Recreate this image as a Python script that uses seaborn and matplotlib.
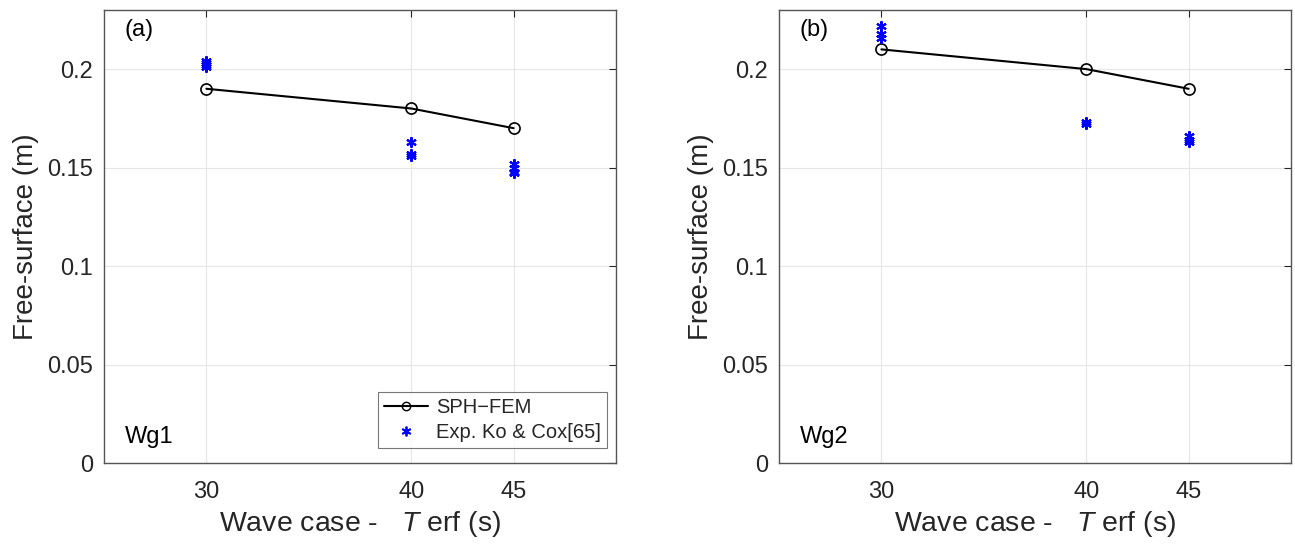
import numpy as np
import pandas as pd
import matplotlib
matplotlib.use("Agg")
import matplotlib.pyplot as plt
from matplotlib.lines import Line2D
import seaborn as sns

# ---- data ----
wave_cases = [30, 40, 45]
sph_a = [0.19, 0.18, 0.17]
sph_b = [0.21, 0.20, 0.19]

exp_a_x = [30, 30, 30, 30, 40, 40, 40, 45, 45, 45, 45]
exp_a_y = [0.204, 0.203, 0.202, 0.201, 0.163, 0.157, 0.156, 0.152, 0.150, 0.148, 0.147]
exp_b_x = [30, 30, 30, 40, 40, 45, 45, 45]
exp_b_y = [0.222, 0.218, 0.216, 0.173, 0.172, 0.166, 0.164, 0.163]

y_ticks = [0, 0.05, 0.1, 0.15, 0.2]
y_tick_labels = ["0", "0.05", "0.1", "0.15", "0.2"]
panel_tags = ["(a)", "(b)"]
gauge_names = ["Wg1", "Wg2"]

sns.set_theme(style="white")
plt.rcParams["font.family"] = ["Liberation Sans", "DejaVu Sans"]
plt.rcParams["mathtext.fontset"] = "custom"
plt.rcParams["mathtext.it"] = "Liberation Sans:italic"
plt.rcParams["mathtext.rm"] = "Liberation Sans"

txt = "#262626"
fig = plt.figure(figsize=(12.95, 5.45), dpi=100)
ax1 = fig.add_axes([104/1295, 1-463/545, 512/1295, 453/545])
ax2 = fig.add_axes([779/1295, 1-463/545, 512/1295, 453/545])

asterisk = (6, 2, 0)

for ax, sph, ex, ey, tag, gname in [
    (ax1, sph_a, exp_a_x, exp_a_y, panel_tags[0], gauge_names[0]),
    (ax2, sph_b, exp_b_x, exp_b_y, panel_tags[1], gauge_names[1]),
]:
    df_s = pd.DataFrame({"T": wave_cases, "eta": sph})
    df_e = pd.DataFrame({"T": ex, "eta": ey})
    sns.lineplot(data=df_s, x="T", y="eta", ax=ax, color="black", lw=1.5,
                 marker="o", markersize=8, markerfacecolor="none",
                 markeredgecolor="black", markeredgewidth=1.2, zorder=3)
    ax.plot(df_e["T"], df_e["eta"], linestyle="none", marker=asterisk,
            markersize=7.5, color="blue", markeredgewidth=1.5, zorder=4)
    ax.set_xlim(25, 50)
    ax.set_ylim(0, 0.23)
    ax.set_xticks(wave_cases)
    ax.set_xticklabels([str(v) for v in wave_cases])
    ax.set_yticks(y_ticks)
    ax.set_yticklabels(y_tick_labels)
    ax.tick_params(axis="both", direction="in", length=5, width=0.8,
                   colors=txt, labelsize=17, top=True, right=True, pad=8)
    ax.tick_params(axis="x", pad=13)
    ax.grid(True, color="#e6e6e6", lw=0.8)
    for s in ax.spines.values():
        s.set_color("#555555")
        s.set_linewidth(1.0)
    ax.set_xlabel("Wave case -   $\\it{T}$ erf (s)", fontsize=20.5, color=txt, labelpad=4)
    ax.set_ylabel("Free-surface (m)", fontsize=20, color=txt, labelpad=6)
    ax.text(0.04, 0.956, tag, transform=ax.transAxes, fontsize=17,
            va="center", ha="left", color="black")
    ax.text(0.04, 0.058, gname, transform=ax.transAxes, fontsize=17,
            va="center", ha="left", color="black")

handles = [
    Line2D([0], [0], color="black", lw=1.5, marker="o", markersize=6,
           markerfacecolor="none", markeredgecolor="black"),
    Line2D([0], [0], linestyle="none", marker=asterisk, markersize=7,
           color="blue", markeredgewidth=1.3),
]
leg = ax1.legend(handles, ["SPH\u2212FEM", "Exp. Ko & Cox[65]"], loc="lower right",
                 bbox_to_anchor=(0.99, 0.025), fontsize=14.5, frameon=True,
                 fancybox=False, borderpad=0.3, labelspacing=0.3,
                 handlelength=2.2, handletextpad=0.4, borderaxespad=0.2)
leg.get_frame().set_edgecolor("#555555")
leg.get_frame().set_linewidth(0.8)

fig.savefig("out.png", dpi=100)
